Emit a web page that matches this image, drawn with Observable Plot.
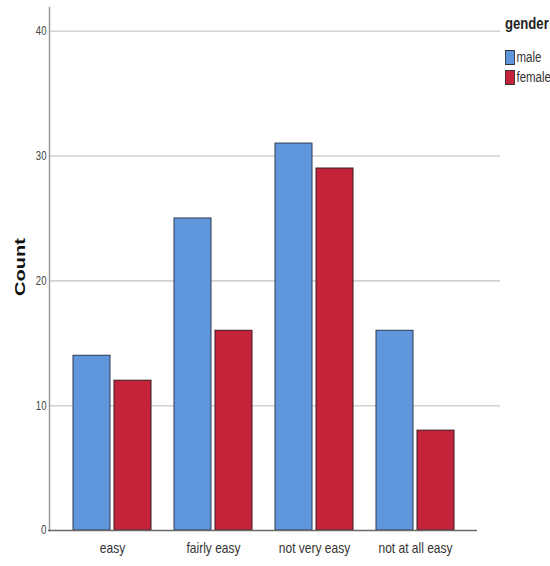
<!DOCTYPE html>
<html>
<head>
<meta charset="utf-8">
<script src="https://cdn.jsdelivr.net/npm/d3@7"></script>
<script src="https://cdn.jsdelivr.net/npm/@observablehq/plot@0.6"></script>
<style>
  html, body { margin: 0; padding: 0; background: #fff; }
  #wrap { position: relative; width: 550px; height: 566px; overflow: hidden; }
  #legend { position: absolute; left: 505px; top: 15px; color: #222; font-family: "Liberation Sans", Arial, sans-serif; transform: scaleX(0.82); transform-origin: left top; white-space: nowrap; }
  #legend .title { font-weight: bold; font-size: 16px; margin-bottom: 14px; }
  #legend .item { display: flex; align-items: center; font-size: 14px; height: 20px; color: #333; }
  #legend .sw { width: 12px; height: 15px; border: 1px solid #333; margin-right: 2px; box-sizing: border-box; }
</style>
</head>
<body>
<div id="wrap"></div>
<script>
const categories = ["easy", "fairly easy", "not very easy", "not at all easy"];
const genders = ["male", "female"];
const maleCounts = [14, 25, 31, 16];
const femaleCounts = [12, 16, 29, 8];
const yTicks = [0, 10, 20, 30, 40];
const colors = ["#5f96dc", "#c4233a"];
const yTitle = "Count";

const maleRows = categories.map((c, i) => ({category: c, gender: "male", count: maleCounts[i]}));
const femaleRows = categories.map((c, i) => ({category: c, gender: "female", count: femaleCounts[i]}));

const baseFont = '"Liberation Sans", Arial, sans-serif';

const chart = Plot.plot({
  width: 550,
  height: 566,
  marginTop: 7,
  marginBottom: 36,
  marginLeft: 49,
  marginRight: 73,
  style: {background: "#fff", fontFamily: baseFont},
  x: {domain: categories, padding: 0.23, label: null},
  y: {domain: [0, 41.9], label: null},
  marks: [
    Plot.ruleY(yTicks.slice(1), {stroke: "#d2d2d2", strokeWidth: 1.6, insetRight: -23}),
    Plot.barY(maleRows, {x: "category", y: "count", fill: colors[0], stroke: "#2c3a50", strokeWidth: 1, insetRight: 41}),
    Plot.barY(femaleRows, {x: "category", y: "count", fill: colors[1], stroke: "#3a1a1e", strokeWidth: 1, insetLeft: 41}),
    Plot.frame({anchor: "left", stroke: "#9a9a9a", strokeWidth: 1.5}),
    Plot.ruleY([0], {stroke: "#6a6a6a", strokeWidth: 1.5, insetLeft: -1}),
    Plot.axisY({ticks: yTicks, tickSize: 0, tickPadding: 3, label: null, fontSize: 12, fill: "#444"}),
    Plot.axisX({tickSize: 0, tickPadding: 12, label: null, fontSize: 15, fill: "#333"}),
    Plot.text([yTitle], {frameAnchor: "left", text: d => d, rotate: -90, dx: -29, dy: -2, textAnchor: "middle", fontWeight: "bold", fontSize: 15, fill: "#111"})
  ]
});

const wrap = document.getElementById("wrap");
wrap.appendChild(chart);

// condensed look (like Arial Narrow) for the tick labels
chart.querySelectorAll('[aria-label="x-axis tick label"] text, [aria-label="y-axis tick label"] text').forEach(t => {
  const len = t.getComputedTextLength();
  t.setAttribute("textLength", (len * 0.8).toFixed(1));
  t.setAttribute("lengthAdjust", "spacingAndGlyphs");
});
// wide "Count" title, as in the reference
chart.querySelectorAll("text").forEach(t => {
  if (t.textContent === yTitle) {
    t.setAttribute("textLength", "58");
    t.setAttribute("lengthAdjust", "spacingAndGlyphs");
  }
});

const legend = document.createElement("div");
legend.id = "legend";
legend.innerHTML = `<div class="title">gender</div>` +
  genders.map((g, i) => `<div class="item"><span class="sw" style="background:${colors[i]}"></span>${g}</div>`).join("");
wrap.appendChild(legend);
</script>
</body>
</html>
